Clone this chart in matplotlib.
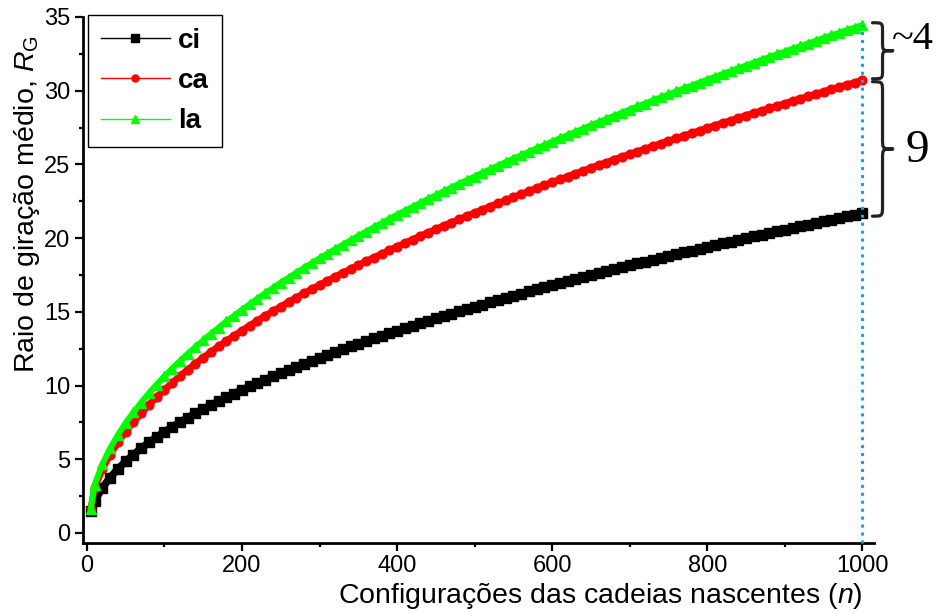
import matplotlib
matplotlib.use('Agg')
import matplotlib.pyplot as plt
from matplotlib.path import Path
from matplotlib.patches import PathPatch
from matplotlib.lines import Line2D
from matplotlib.ticker import MultipleLocator

plt.rcParams['font.family'] = ['Liberation Sans', 'DejaVu Sans']
plt.rcParams['mathtext.fontset'] = 'custom'
plt.rcParams['mathtext.rm'] = 'Liberation Sans'
plt.rcParams['mathtext.it'] = 'Liberation Sans:italic'

# ---------------- data ----------------
n_conf = [5] + list(range(10, 1001, 10))

ci = [1.50,
      2.17, 3.07, 3.76, 4.34, 4.85, 5.31, 5.74, 6.14, 6.51, 6.86,
      7.19, 7.51, 7.82, 8.12, 8.40, 8.68, 8.94, 9.20, 9.46, 9.70,
      9.94, 10.17, 10.40, 10.63, 10.85, 11.06, 11.27, 11.48, 11.68, 11.88,
      12.08, 12.27, 12.46, 12.65, 12.83, 13.02, 13.20, 13.37, 13.55, 13.72,
      13.89, 14.06, 14.23, 14.39, 14.55, 14.71, 14.87, 15.03, 15.19, 15.34,
      15.49, 15.64, 15.79, 15.94, 16.09, 16.23, 16.38, 16.52, 16.66, 16.80,
      16.94, 17.08, 17.22, 17.35, 17.49, 17.62, 17.76, 17.89, 18.02, 18.15,
      18.28, 18.41, 18.53, 18.66, 18.79, 18.91, 19.04, 19.16, 19.28, 19.40,
      19.52, 19.64, 19.76, 19.88, 20.00, 20.12, 20.23, 20.35, 20.47, 20.58,
      20.69, 20.81, 20.92, 21.03, 21.14, 21.26, 21.37, 21.48, 21.58, 21.69]

ca = [1.60,
      3.07, 4.34, 5.32, 6.14, 6.87, 7.52, 8.12, 8.69, 9.21, 9.71,
      10.18, 10.64, 11.07, 11.49, 11.89, 12.28, 12.66, 13.03, 13.38, 13.73,
      14.07, 14.40, 14.73, 15.04, 15.35, 15.66, 15.96, 16.25, 16.54, 16.82,
      17.10, 17.37, 17.64, 17.90, 18.17, 18.42, 18.68, 18.93, 19.18, 19.42,
      19.66, 19.90, 20.14, 20.37, 20.60, 20.83, 21.05, 21.27, 21.49, 21.71,
      21.93, 22.14, 22.35, 22.56, 22.77, 22.98, 23.18, 23.39, 23.59, 23.79,
      23.98, 24.18, 24.37, 24.56, 24.76, 24.95, 25.13, 25.32, 25.51, 25.69,
      25.87, 26.05, 26.24, 26.41, 26.59, 26.77, 26.94, 27.12, 27.29, 27.46,
      27.64, 27.81, 27.97, 28.14, 28.31, 28.48, 28.64, 28.80, 28.97, 29.13,
      29.29, 29.45, 29.61, 29.77, 29.93, 30.09, 30.24, 30.40, 30.55, 30.71]

la = [1.60,
      3.28, 4.67, 5.74, 6.65, 7.46, 8.18, 8.85, 9.48, 10.07, 10.62,
      11.15, 11.66, 12.15, 12.62, 13.07, 13.51, 13.93, 14.35, 14.75, 15.14,
      15.52, 15.89, 16.26, 16.62, 16.97, 17.31, 17.65, 17.98, 18.30, 18.63,
      18.94, 19.25, 19.55, 19.85, 20.15, 20.44, 20.73, 21.01, 21.30, 21.58,
      21.85, 22.12, 22.39, 22.65, 22.91, 23.17, 23.43, 23.68, 23.93, 24.18,
      24.43, 24.67, 24.91, 25.15, 25.39, 25.62, 25.85, 26.09, 26.31, 26.54,
      26.77, 26.99, 27.21, 27.43, 27.65, 27.87, 28.08, 28.29, 28.51, 28.72,
      28.93, 29.13, 29.34, 29.54, 29.75, 29.95, 30.15, 30.35, 30.55, 30.75,
      30.94, 31.14, 31.33, 31.52, 31.71, 31.90, 32.09, 32.28, 32.47, 32.65,
      32.84, 33.02, 33.20, 33.39, 33.57, 33.75, 33.93, 34.11, 34.28, 34.46]

series_labels = ['ci', 'ca', 'la']
gap_labels = ['~4', '9']

# ---------------- figure ----------------
W, H = 936, 614
fig = plt.figure(figsize=(W / 100, H / 100), dpi=100)
ax = fig.add_axes([83 / W, 1 - 543 / H, (874 - 83) / W, (543 - 17) / H])

styles = [('black', 's', 6.8, 5.4), ('red', 'o', 6.3, 4.9), ('#00FF00', '^', 7.2, 4.3)]
handles = []
for ys, lab, (col, mk, ms, blw), z in zip([ci, ca, la], series_labels, styles, [3, 4, 5]):
    ax.plot(n_conf, ys, '-', color=col, lw=blw, marker=mk, ms=ms,
            mec=col, mfc=col, zorder=z, solid_capstyle='butt')
    handles.append(Line2D([], [], color=col, lw=1, marker=mk, ms=ms * 0.8,
                          mec=col, mfc=col, label=lab))

ax.set_xlim(-5, 1015)
ax.set_ylim(-0.68, 35)
ymin = ax.get_ylim()[0]

# dotted reference line at last configuration
ax.vlines(n_conf[-1], ymin, la[-1], colors='#1E9FE3', linestyles=(0, (1, 1.6)),
          lw=2.2, zorder=6, clip_on=False)

ax.xaxis.set_major_locator(MultipleLocator(200))
ax.xaxis.set_minor_locator(MultipleLocator(100))
ax.yaxis.set_major_locator(MultipleLocator(5))
ax.yaxis.set_minor_locator(MultipleLocator(2.5))
for s in ['top', 'right']:
    ax.spines[s].set_visible(False)
for s in ['left', 'bottom']:
    ax.spines[s].set_linewidth(2)
ax.tick_params(which='major', direction='out', length=6, width=1.6,
               labelsize=17, pad=3)
ax.tick_params(which='minor', direction='out', length=3, width=1.6)

fig.text(600 / W, 1 - 596 / H, r'Configurações das cadeias nascentes ($\mathit{n}$)',
         fontsize=20.5, ha='center', va='center')
fig.text(27 / W, 1 - 204 / H, r'Raio de giração médio, $\mathit{R}_\mathrm{G}$',
         fontsize=20.5, rotation=90, ha='center', va='center')

leg = ax.legend(handles=handles, loc='upper left', bbox_to_anchor=(88 / W, 1 - 15 / H),
                bbox_transform=fig.transFigure, borderaxespad=0,
                prop={'weight': 'bold', 'size': 20}, handlelength=2.5,
                handletextpad=0.3, borderpad=0.45, labelspacing=0.52,
                fancybox=False, framealpha=1, edgecolor='black')
leg.get_frame().set_linewidth(1.0)


def brace(ax, x0, w, y0, y1, r):
    xs = x0 + w / 2
    ym = (y0 + y1) / 2
    verts = [(x0, y1), (xs, y1), (xs, y1), (xs, y1 - r),
             (xs, ym + r),
             (xs, ym), (xs, ym), (x0 + w, ym),
             (xs, ym), (xs, ym), (xs, ym - r),
             (xs, y0 + r),
             (xs, y0), (xs, y0), (x0, y0)]
    C = Path.CURVE4
    codes = [Path.MOVETO, C, C, C, Path.LINETO, C, C, C, C, C, C,
             Path.LINETO, C, C, C]
    p = PathPatch(Path(verts, codes), fill=False, lw=2.3, ec='#222222',
                  capstyle='round', joinstyle='round', clip_on=False, zorder=7)
    ax.add_patch(p)


brace(ax, 1013, 26, ca[-1] + 0.1, la[-1] + 0.15, 0.6)
brace(ax, 1013, 26, ci[-1] - 0.2, ca[-1] - 0.1, 0.75)

ax.text(1038, (ca[-1] + la[-1]) / 2 + 0.9, gap_labels[0], family='Liberation Serif',
        fontsize=29, ha='left', va='center', clip_on=False)
ax.text(1055, (ci[-1] + ca[-1]) / 2 - 0.3, gap_labels[1], family='Liberation Serif',
        fontsize=34, ha='left', va='center', clip_on=False)

fig.savefig('out.png', dpi=100)
